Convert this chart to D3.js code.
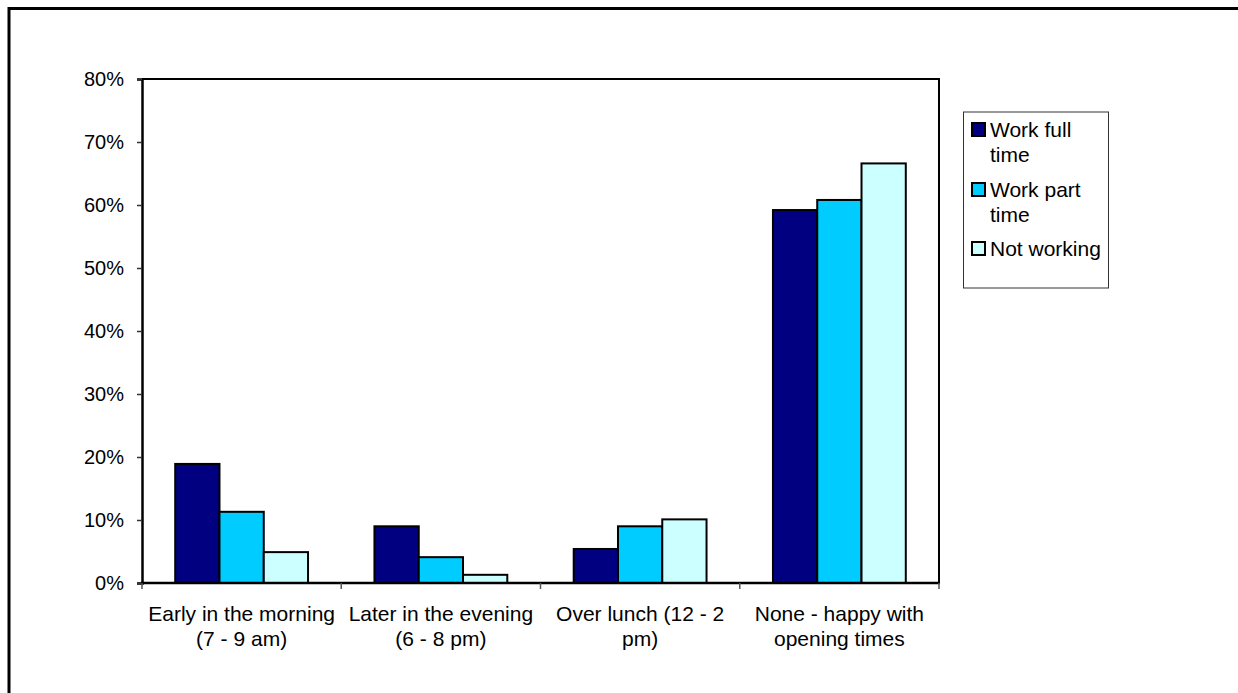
<!DOCTYPE html>
<html>
<head>
<meta charset="utf-8">
<script src="https://cdn.jsdelivr.net/npm/d3@7"></script>
<style>
  html, body { margin: 0; padding: 0; background: #fff; }
  svg { display: block; }
  text { font-family: Arial, "Liberation Sans", sans-serif; fill: #000; }
</style>
</head>
<body>
<svg id="chart" width="1238" height="693"></svg>
<script>
// ---- data ----
const categories = [
  ["Early in the morning", "(7 - 9 am)"],
  ["Later in the evening", "(6 - 8 pm)"],
  ["Over lunch (12 - 2", "pm)"],
  ["None - happy with", "opening times"]
];
const seriesNames = [["Work full", "time"], ["Work part", "time"], ["Not working"]];
const workFullTime = [0.189, 0.090, 0.054, 0.592];
const workPartTime = [0.113, 0.041, 0.090, 0.608];
const notWorking   = [0.049, 0.013, 0.101, 0.666];
const seriesColors = ["#000080", "#00CCFF", "#CCFFFF"];
const yTicks = [0, 0.1, 0.2, 0.3, 0.4, 0.5, 0.6, 0.7, 0.8];

const seriesValues = [workFullTime, workPartTime, notWorking];

// ---- layout ----
const svg = d3.select("#chart");
const W = 1238, H = 693;
const plot = { left: 142, top: 79, right: 939, bottom: 583 };

svg.append("rect").attr("x", 0).attr("y", 0).attr("width", W).attr("height", H).attr("fill", "#fff");
// outer frame (right/bottom cut off)
svg.append("rect").attr("x", 9).attr("y", 8.5).attr("width", W + 20).attr("height", H + 20)
  .attr("fill", "none").attr("stroke", "#000").attr("stroke-width", 3);

const catIdx = categories.map((d, i) => i);
const x0 = d3.scaleBand().domain(catIdx).range([plot.left, plot.right]).padding(0);
const x1 = d3.scaleBand().domain([0, 1, 2]).range([0, x0.bandwidth()]).paddingInner(0).paddingOuter(0.75);
const y = d3.scaleLinear().domain([0, 0.8]).range([plot.bottom, plot.top]);

// plot border (top & right)
svg.append("path")
  .attr("d", `M${plot.left},${plot.top}H${plot.right}V${plot.bottom}`)
  .attr("fill", "none").attr("stroke", "#000").attr("stroke-width", 2);

// bars
const groups = svg.append("g").selectAll("g").data(catIdx).join("g")
  .attr("transform", d => `translate(${x0(d)},0)`);
groups.selectAll("rect")
  .data(ci => seriesValues.map((vals, si) => ({ si, v: vals[ci] })))
  .join("rect")
  .attr("x", d => x1(d.si))
  .attr("y", d => y(d.v))
  .attr("width", x1.bandwidth())
  .attr("height", d => plot.bottom - y(d.v))
  .attr("fill", d => seriesColors[d.si])
  .attr("stroke", "#000").attr("stroke-width", 2);

// y axis
const yAxis = svg.append("g").attr("transform", `translate(${plot.left},0)`)
  .call(d3.axisLeft(y).tickValues(yTicks).tickFormat(d3.format(".0%")).tickSize(5).tickPadding(13));
yAxis.select(".domain").attr("stroke-width", 2.5);
yAxis.selectAll(".tick line").attr("stroke", "#333").attr("stroke-width", 1.5);
yAxis.selectAll("text").attr("font-size", 20).attr("font-family", "Arial, 'Liberation Sans', sans-serif").attr("fill", "#000");

// x axis
const boundaries = catIdx.map(i => x0(i)).concat([plot.right]);
const xg = svg.append("g");
xg.append("line").attr("x1", plot.left - 1).attr("x2", plot.right + 1)
  .attr("y1", plot.bottom).attr("y2", plot.bottom)
  .attr("stroke", "#000").attr("stroke-width", 2.5);
xg.selectAll("line.tick").data(boundaries).join("line").attr("class", "tick")
  .attr("x1", d => d).attr("x2", d => d)
  .attr("y1", plot.bottom).attr("y2", plot.bottom + 6)
  .attr("stroke", "#555").attr("stroke-width", 1.5);

const labels = xg.selectAll("text.cat").data(catIdx).join("text").attr("class", "cat")
  .attr("text-anchor", "middle").attr("font-size", 21)
  .attr("x", d => x0(d) + x0.bandwidth() / 2)
  .attr("y", 621);
labels.selectAll("tspan").data(d => categories[d]).join("tspan")
  .attr("x", function() { return d3.select(this.parentNode).attr("x"); })
  .attr("dy", (d, i) => i === 0 ? 0 : 25)
  .text(d => d);

// legend
const lg = svg.append("g");
lg.append("rect").attr("x", 963.5).attr("y", 112).attr("width", 145).attr("height", 176)
  .attr("fill", "#fff").attr("stroke", "#333").attr("stroke-width", 1);
const itemY = [137, 197, 256];
seriesNames.forEach((lines, i) => {
  lg.append("rect").attr("x", 972).attr("y", itemY[i] - 14).attr("width", 13).attr("height", 13)
    .attr("fill", seriesColors[i]).attr("stroke", "#000").attr("stroke-width", 2);
  const t = lg.append("text").attr("x", 990).attr("y", itemY[i]).attr("font-size", 21);
  lines.forEach((ln, j) => {
    t.append("tspan").attr("x", 990).attr("dy", j === 0 ? 0 : 25).text(ln);
  });
});
</script>
</body>
</html>
